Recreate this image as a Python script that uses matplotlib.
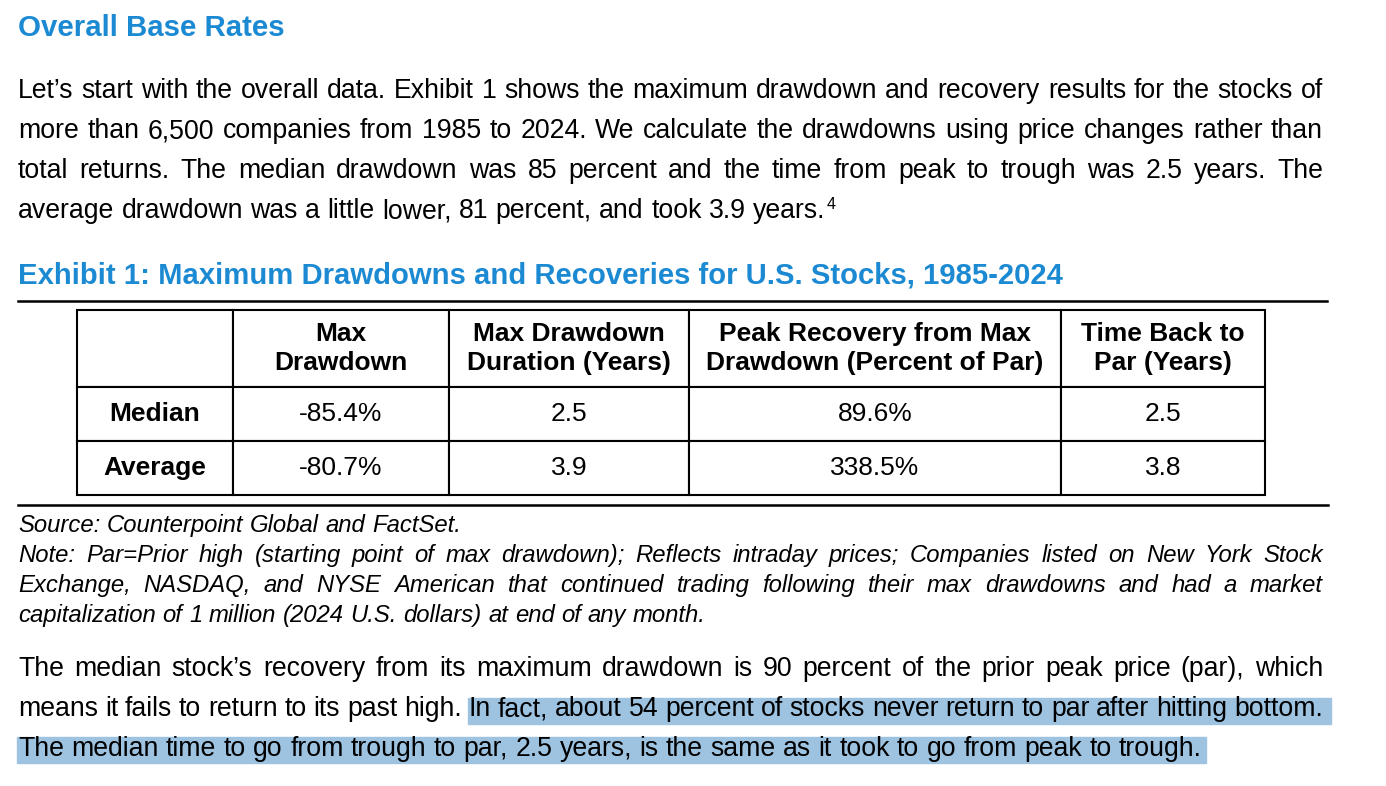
import matplotlib.pyplot as plt
from matplotlib.patches import Rectangle

plt.rcParams['font.family'] = ['Liberation Sans', 'DejaVu Sans']

BLUE = '#1c8ad3'
MARK = '#9dc3e1'

# table data
col_labels = ['', 'Max\nDrawdown', 'Max Drawdown\nDuration (Years)',
              'Peak Recovery from Max\nDrawdown (Percent of Par)', 'Time Back to\nPar (Years)']
row_labels = ['Median', 'Average']
max_drawdown = [-85.4, -80.7]
drawdown_years = [2.5, 3.9]
peak_recovery = [89.6, 338.5]
years_to_par = [2.5, 3.8]

# text of the page
para1 = ["Let\u2019s start with the overall data. Exhibit 1 shows the maximum drawdown and recovery results for the stocks of",
         "more than 6,500 companies from 1985 to 2024. We calculate the drawdowns using price changes rather than",
         "total returns. The median drawdown was 85 percent and the time from peak to trough was 2.5 years. The",
         "average drawdown was a little lower, 81 percent, and took 3.9 years."]
notes = ["Source: Counterpoint Global and FactSet.",
         "Note: Par=Prior high (starting point of max drawdown); Reflects intraday prices; Companies listed on New York Stock",
         "Exchange, NASDAQ, and NYSE American that continued trading following their max drawdowns and had a market",
         "capitalization of 1 million (2024 U.S. dollars) at end of any month."]
para2 = ["The median stock\u2019s recovery from its maximum drawdown is 90 percent of the prior peak price (par), which",
         "means it fails to return to its past high. In fact, about 54 percent of stocks never return to par after hitting bottom.",
         "The median time to go from trough to par, 2.5 years, is the same as it took to go from peak to trough."]

fig = plt.figure(figsize=(13.86, 7.86), dpi=100)
ax = fig.add_axes([0, 0, 1, 1])
ax.set_xlim(0, 1386)
ax.set_ylim(786, 0)
ax.axis('off')
r = fig.canvas.get_renderer()


def width_of(s, size, **kw):
    t = ax.text(0, 0, s, fontsize=size, **kw)
    w = t.get_window_extent(r).width
    t.remove()
    return w


def fit(s, w, **kw):
    # font size that makes s about w pixels wide
    return 20 * w / width_of(s, 20, **kw)


def draw_line(line, x0, y, size, x1=None, **kw):
    words = line.split(' ')
    widths = [width_of(w, size, **kw) for w in words]
    if x1 is None:
        gap = width_of('a a', size, **kw) - width_of('aa', size, **kw)
    else:
        gap = (x1 - x0 - sum(widths)) / (len(words) - 1)
    x = x0
    pos = []
    for w, wd in zip(words, widths):
        ax.text(x, y, w, fontsize=size, va='baseline', ha='left', **kw)
        pos.append((x, x + wd))
        x += wd + gap
    return pos


# headings
hsize = fit('Overall Base Rates', 265, fontweight='bold')
ax.text(18, 36, 'Overall Base Rates', fontsize=hsize, fontweight='bold', color=BLUE, va='baseline')
exh = 'Exhibit 1: Maximum Drawdowns and Recoveries for U.S. Stocks, 1985-2024'
esize = fit(exh, 1045, fontweight='bold')
ax.text(18, 283, exh, fontsize=esize, fontweight='bold', color=BLUE, va='baseline')

# body paragraphs
bsize = fit(para2[2], 1183)
for i, line in enumerate(para1):
    right = 1323 if i < 3 else None
    pos = draw_line(line, 18, 98 + 40 * i, bsize, right)
ax.text(pos[-1][1] + 1, 218 - 9, '4', fontsize=bsize * 0.6, va='baseline')

for i, line in enumerate(para2):
    right = 1323 if i < 2 else None
    pos = draw_line(line, 18, 676 + 40 * i, bsize, right)
    if i == 1:
        start = pos[line.split(' ').index('In')][0]
        ax.add_patch(Rectangle((start - 1, 716 - 18), 1332 - start, 26, color=MARK, zorder=0))
    if i == 2:
        ax.add_patch(Rectangle((17, 756 - 19), pos[-1][1] + 4 - 17, 26, color=MARK, zorder=0))

# notes under the table
nsize = fit(notes[3], 687, style='italic')
for i, line in enumerate(notes):
    right = 1323 if i in (1, 2) else None
    draw_line(line, 18, 532 + 30 * i, nsize, right, style='italic')

# rules above and below the table
ax.plot([18, 1327], [301, 301], color='black', lw=1.8)
ax.plot([18, 1328], [505, 505], color='black', lw=1.8)

# the table
cells = [[row_labels[i], f'{max_drawdown[i]:.1f}%', f'{drawdown_years[i]:.1f}',
          f'{peak_recovery[i]:.1f}%', f'{years_to_par[i]:.1f}'] for i in range(2)]
tsize = fit('Drawdown (Percent of Par)', 338, fontweight='bold')
col_w = [156, 216, 240, 372, 204]
tab = ax.table(cellText=cells, colLabels=col_labels, colWidths=[w / 1188 for w in col_w],
               cellLoc='center',
               bbox=[77 / 1386, 1 - 495 / 786, 1188 / 1386, 185 / 786])
tab.auto_set_font_size(False)
tab.set_fontsize(tsize)
for (row, col), cell in tab.get_celld().items():
    cell.set_linewidth(1.5)
    cell.set_edgecolor('black')
    cell.set_height(77 if row == 0 else 54)
    txt = cell.get_text()
    txt.set_linespacing(1.3)
    if row == 0 or col == 0:
        txt.set_fontweight('bold')

fig.savefig('out.png', dpi=100)
